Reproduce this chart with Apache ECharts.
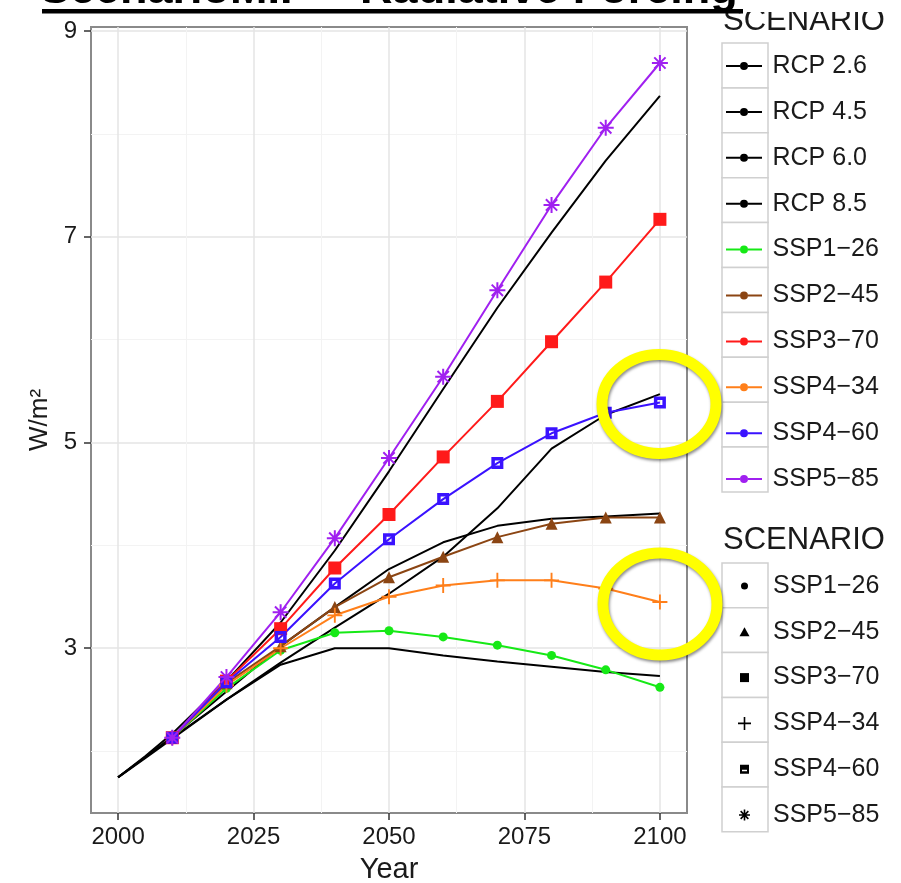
<!DOCTYPE html>
<html>
<head>
<meta charset="utf-8">
<script src="https://cdn.jsdelivr.net/npm/echarts@6/dist/echarts.min.js"></script>
<style>
html,body{margin:0;padding:0;background:#fff}
#chart{width:901px;height:883px}
</style>
</head>
<body>
<div id="chart"></div>
<script>
// years
var rcpYears = [2000, 2005, 2010, 2020, 2030, 2040, 2050, 2060, 2070, 2080, 2090, 2100];
var sspYears = [2010, 2020, 2030, 2040, 2050, 2060, 2070, 2080, 2090, 2100];

// RCP (black lines)
var rcp26 = [1.745, 1.94, 2.13, 2.50, 2.84, 3.00, 3.00, 2.93, 2.87, 2.82, 2.77, 2.73];
var rcp45 = [1.745, 1.94, 2.14, 2.58, 3.02, 3.40, 3.77, 4.03, 4.19, 4.26, 4.28, 4.31];
var rcp60 = [1.745, 1.93, 2.12, 2.50, 2.86, 3.20, 3.53, 3.89, 4.36, 4.94, 5.27, 5.47];
var rcp85 = [1.745, 1.95, 2.17, 2.68, 3.25, 3.95, 4.72, 5.52, 6.31, 7.04, 7.74, 8.37];

// SSP (coloured, with markers)
var ssp126 = [2.13, 2.61, 2.98, 3.15, 3.17, 3.11, 3.03, 2.93, 2.79, 2.62];
var ssp245 = [2.13, 2.66, 3.02, 3.40, 3.69, 3.89, 4.08, 4.21, 4.27, 4.27];
var ssp370 = [2.13, 2.68, 3.19, 3.78, 4.30, 4.86, 5.40, 5.98, 6.56, 7.17];
var ssp434 = [2.13, 2.64, 3.00, 3.32, 3.50, 3.61, 3.66, 3.66, 3.58, 3.45];
var ssp460 = [2.13, 2.67, 3.11, 3.63, 4.06, 4.45, 4.80, 5.09, 5.29, 5.39];
var ssp585 = [2.13, 2.72, 3.35, 4.07, 4.85, 5.64, 6.48, 7.31, 8.06, 8.69];

var xTicks = [2000, 2025, 2050, 2075, 2100];
var xMinor = [2012.5, 2037.5, 2062.5, 2087.5];
var yTicks = [3, 5, 7, 9];
var yMinor = [2, 4, 6, 8];

var rcpNames = ['RCP 2.6', 'RCP 4.5', 'RCP 6.0', 'RCP 8.5'];
var sspNames = ['SSP1\u221226', 'SSP2\u221245', 'SSP3\u221270', 'SSP4\u221234', 'SSP4\u221260', 'SSP5\u221285'];
var sspColors = ['#16e916', '#8b4513', '#ff1a1a', '#ff7f1a', '#3a12ff', '#a020f0'];

var fontFam = 'Liberation Sans, Arial, sans-serif';

// marker shapes
var plusPath = 'path://M-1,-8 L1,-8 L1,-1 L8,-1 L8,1 L1,1 L1,8 L-1,8 L-1,1 L-8,1 L-8,-1 L-1,-1 Z';
var starPath = 'path://M-1,-8 L1,-8 L1,8 L-1,8 Z M-8,-1 L8,-1 L8,1 L-8,1 Z ' +
  'M-4.95,-6.36 L6.36,4.95 L4.95,6.36 L-6.36,-4.95 Z M-6.36,4.95 L4.95,-6.36 L6.36,-4.95 L-4.95,6.36 Z';
var boxPath = 'path://M-6,-6 L6,-6 L6,6 L-6,6 Z M-2.5,-2.5 L-2.5,2.5 L2.5,2.5 L2.5,-2.5 Z';
var sspSymbols = ['circle', 'triangle', 'rect', plusPath, boxPath, starPath];
var sspSizes = [9, 12, 13, 15, 12, 16];

// legend icons
var dotLine = 'path://M0,4 L14,4 L14,6 L0,6 Z M22,4 L36,4 L36,6 L22,6 Z M18,1 A4,4 0 1,1 18,9 A4,4 0 1,1 18,1 Z';
var pad = 'M-7,-7 M7,7 ';
var shapeIcons = [
  'path://' + pad + 'M0,-3.5 A3.5,3.5 0 1,1 0,3.5 A3.5,3.5 0 1,1 0,-3.5 Z',
  'path://' + pad + 'M0,-4.5 L5,4.5 L-5,4.5 Z',
  'path://' + pad + 'M-4.5,-4.5 L4.5,-4.5 L4.5,4.5 L-4.5,4.5 Z',
  'path://' + pad + 'M-0.8,-6.5 L0.8,-6.5 L0.8,-0.8 L6.5,-0.8 L6.5,0.8 L0.8,0.8 L0.8,6.5 L-0.8,6.5 L-0.8,0.8 L-6.5,0.8 L-6.5,-0.8 L-0.8,-0.8 Z',
  'path://' + pad + 'M-4.5,-4.5 L4.5,-4.5 L4.5,4.5 L-4.5,4.5 Z M-2.5,0.5 L-2.5,2 L2.5,2 L2.5,0.5 Z',
  'path://' + pad + 'M-0.8,-5.5 L0.8,-5.5 L0.8,5.5 L-0.8,5.5 Z M-5.5,-0.8 L5.5,-0.8 L5.5,0.8 L-5.5,0.8 Z ' +
    'M-3.3,-4.4 L4.4,3.3 L3.3,4.4 L-4.4,-3.3 Z M-4.4,3.3 L3.3,-4.4 L4.4,-3.3 L-3.3,4.4 Z'
];

function pairs(xs, ys) { return xs.map(function (x, i) { return [x, ys[i]]; }); }

var series = [];
[rcp26, rcp45, rcp60, rcp85].forEach(function (d, i) {
  series.push({
    name: rcpNames[i], type: 'line', data: pairs(rcpYears, d),
    symbol: 'none', color: '#000',
    lineStyle: { color: '#000', width: 2 }, z: 2
  });
});
[ssp126, ssp245, ssp370, ssp434, ssp460, ssp585].forEach(function (d, i) {
  series.push({
    name: sspNames[i], type: 'line', data: pairs(sspYears, d),
    symbol: sspSymbols[i], symbolSize: sspSizes[i], color: sspColors[i],
    itemStyle: { color: sspColors[i] },
    lineStyle: { color: sspColors[i], width: 2 }, z: 3
  });
});

// grey key boxes of the two legends
var graphics = [];
for (var i = 0; i < 10; i++) {
  graphics.push({ type: 'rect', z: 0, shape: { x: 722, y: 43 + i * 44.9, width: 46, height: 44.9 },
    style: { fill: '#fff', stroke: '#d0d0d0', lineWidth: 1.5 } });
}
for (var j = 0; j < 6; j++) {
  graphics.push({ type: 'rect', z: 0, shape: { x: 722, y: 563 + j * 44.8, width: 46, height: 44.8 },
    style: { fill: '#fff', stroke: '#d0d0d0', lineWidth: 1.5 } });
}
graphics.push(
  { type: 'text', z: 50, style: { text: 'SCENARIO', x: 723, y: 21, fontFamily: fontFam, fontSize: 31, fill: '#1a1a1a', verticalAlign: 'middle' } },
  { type: 'rect', z: 60, shape: { x: 700, y: 0, width: 201, height: 12 }, style: { fill: '#fff' } },
  { type: 'text', z: 50, style: { text: 'SCENARIO', x: 723, y: 540, fontFamily: fontFam, fontSize: 31, fill: '#1a1a1a', verticalAlign: 'middle' } },
  // cut-off slide title
  { type: 'text', z: 70, style: { text: 'ScenarioMIP \u2013 Radiative Forcing', x: 40, y: -9, fontFamily: fontFam, fontWeight: 'bold', fontSize: 45, fill: '#000', verticalAlign: 'middle' } },
  { type: 'rect', z: 70, shape: { x: 42, y: 9, width: 701, height: 4.5 }, style: { fill: '#000' } },
  // yellow highlight rings
  { type: 'ellipse', z: 80, shape: { cx: 659, cy: 404, rx: 57, ry: 49.5 },
    style: { fill: 'none', stroke: '#ffff00', lineWidth: 11, shadowBlur: 3, shadowColor: 'rgba(0,0,0,0.45)', shadowOffsetX: 1, shadowOffsetY: 2 } },
  { type: 'ellipse', z: 80, shape: { cx: 660, cy: 604, rx: 57, ry: 51 },
    style: { fill: 'none', stroke: '#ffff00', lineWidth: 11, shadowBlur: 3, shadowColor: 'rgba(0,0,0,0.45)', shadowOffsetX: 1, shadowOffsetY: 2 } }
);

function plain(v) { return String(v); }

var chart = echarts.init(document.getElementById('chart'));
chart.setOption({
  animation: false,
  backgroundColor: '#fff',
  grid: { left: 91, right: 214, top: 27, bottom: 70, containLabel: false, outerBoundsMode: 'none',
    show: true, borderColor: '#8a8a8a', borderWidth: 2, backgroundColor: '#fff' },
  xAxis: [{
    type: 'value', min: 1995, max: 2105,
    name: 'Year', nameLocation: 'middle', nameGap: 42,
    nameTextStyle: { fontFamily: fontFam, fontSize: 29, color: '#1a1a1a' },
    axisLine: { show: false },
    axisTick: { show: true, customValues: xTicks, length: 7, lineStyle: { color: '#333', width: 1.5 } },
    axisLabel: { customValues: xTicks, formatter: plain, fontFamily: fontFam, fontSize: 24, color: '#1a1a1a', margin: 12 },
    splitLine: { show: true, lineStyle: { color: '#e4e4e4', width: 1.5 } }
  }, {
    type: 'value', min: 1995, max: 2105, position: 'bottom',
    axisLine: { show: false }, axisLabel: { show: false },
    axisTick: { show: false, customValues: xMinor },
    splitLine: { show: true, lineStyle: { color: '#f3f3f3', width: 1 } }
  }],
  yAxis: [{
    type: 'value', min: 1.398, max: 9.04,
    name: 'W/m\u00b2', nameLocation: 'middle', nameGap: 36, nameRotate: 90,
    nameTextStyle: { fontFamily: fontFam, fontSize: 26, color: '#1a1a1a' },
    axisLine: { show: false },
    axisTick: { show: true, customValues: yTicks, length: 7, lineStyle: { color: '#333', width: 1.5 } },
    axisLabel: { customValues: yTicks, formatter: plain, fontFamily: fontFam, fontSize: 24, color: '#1a1a1a', margin: 14 },
    splitLine: { show: true, lineStyle: { color: '#e4e4e4', width: 1.5 } }
  }, {
    type: 'value', min: 1.398, max: 9.04, position: 'left',
    axisLine: { show: false }, axisLabel: { show: false },
    axisTick: { show: false, customValues: yMinor },
    splitLine: { show: true, lineStyle: { color: '#f3f3f3', width: 1 } }
  }],
  legend: [{
    orient: 'vertical', left: 726, top: 53.5, padding: 0, itemGap: 20.9,
    itemWidth: 37, itemHeight: 8, icon: dotLine, selectedMode: false,
    textStyle: { fontFamily: fontFam, fontSize: 25, color: '#1a1a1a', lineHeight: 24, padding: [0, 0, 0, 5] },
    data: rcpNames.concat(sspNames)
  }, {
    orient: 'vertical', left: 737.5, top: 573.5, padding: 0, itemGap: 20.8,
    itemWidth: 37, itemHeight: 14, selectedMode: false,
    textStyle: { fontFamily: fontFam, fontSize: 25, color: '#1a1a1a', lineHeight: 24, padding: [0, 0, 0, 5] },
    data: sspNames.map(function (n, i) { return { name: n, icon: shapeIcons[i], itemStyle: { color: '#000' } }; })
  }],
  graphic: { elements: graphics },
  series: series
});
</script>
</body>
</html>
